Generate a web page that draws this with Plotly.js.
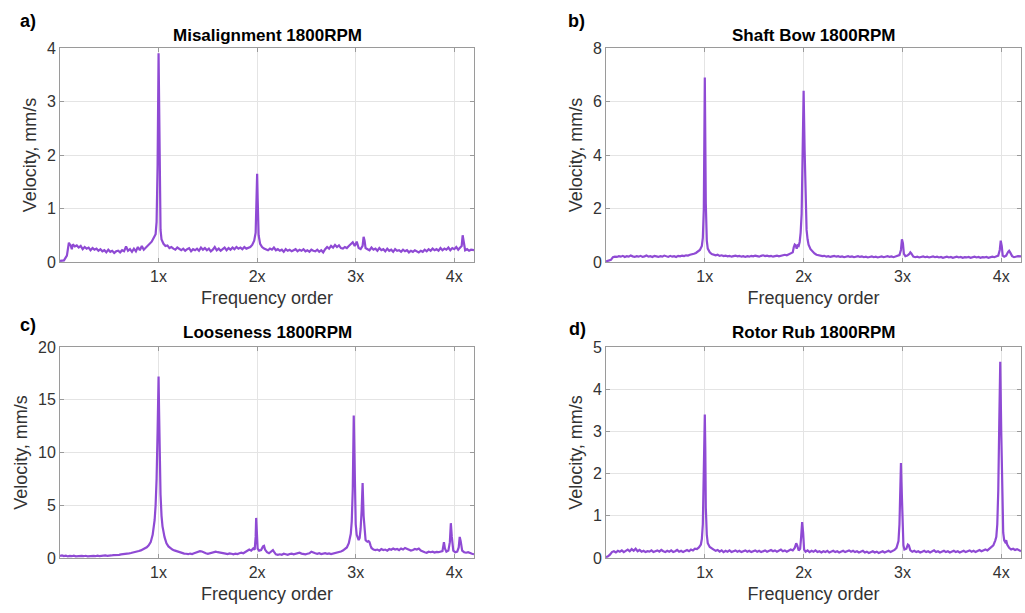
<!DOCTYPE html>
<html>
<head>
<meta charset="utf-8">
<script src="https://cdn.plot.ly/plotly-3.0.1.min.js"></script>
<style>html,body{margin:0;padding:0;background:#fff;}#chart{width:1025px;height:613px;}</style>
</head>
<body>
<div id="chart"></div>
<script>
// Tick labels
var orderTicks = [1, 2, 3, 4];
var orderLabels = ['1x', '2x', '3x', '4x'];
var panelTitles = ['Misalignment 1800RPM', 'Shaft Bow 1800RPM', 'Looseness 1800RPM', 'Rotor Rub 1800RPM'];
var panelLetters = ['a)', 'b)', 'c)', 'd)'];
var yMax = [4, 8, 20, 5];
var yStep = [1, 2, 5, 1];

// [frequency order, velocity mm/s]
var misalignment = [[0,0.02],[0.04,0.03],[0.07,0.12],[0.09,0.36],[0.11,0.30],[0.12,0.24],[0.13,0.33],[0.15,0.29],[0.17,0.31],[0.19,0.27],[0.21,0.30],[0.23,0.24],[0.25,0.28],[0.27,0.25],[0.29,0.27],[0.31,0.22],[0.33,0.26],[0.35,0.23],[0.37,0.25],[0.39,0.21],[0.41,0.24],[0.43,0.20],[0.45,0.22],[0.47,0.18],[0.49,0.23],[0.51,0.19],[0.53,0.21],[0.55,0.17],[0.57,0.20],[0.59,0.21],[0.61,0.18],[0.63,0.22],[0.65,0.20],[0.67,0.29],[0.69,0.21],[0.71,0.24],[0.73,0.19],[0.75,0.25],[0.77,0.20],[0.79,0.28],[0.81,0.22],[0.83,0.30],[0.85,0.23],[0.87,0.27],[0.89,0.31],[0.91,0.33],[0.93,0.38],[0.95,0.45],[0.97,0.52],[0.98,0.75],[0.99,1.8],[1.0,3.9],[1.01,1.6],[1.02,0.6],[1.03,0.42],[1.05,0.34],[1.07,0.30],[1.09,0.31],[1.11,0.26],[1.13,0.28],[1.15,0.25],[1.17,0.23],[1.19,0.27],[1.21,0.24],[1.23,0.22],[1.25,0.25],[1.27,0.21],[1.29,0.24],[1.31,0.26],[1.33,0.20],[1.35,0.24],[1.37,0.22],[1.39,0.25],[1.41,0.21],[1.43,0.27],[1.45,0.23],[1.47,0.26],[1.49,0.22],[1.51,0.25],[1.53,0.20],[1.55,0.23],[1.57,0.28],[1.59,0.22],[1.61,0.25],[1.63,0.21],[1.65,0.24],[1.67,0.27],[1.69,0.22],[1.71,0.26],[1.73,0.23],[1.75,0.27],[1.77,0.24],[1.79,0.28],[1.81,0.25],[1.83,0.27],[1.85,0.24],[1.87,0.28],[1.89,0.25],[1.91,0.27],[1.93,0.28],[1.95,0.32],[1.97,0.40],[1.985,0.55],[1.995,1.3],[2.0,1.65],[2.005,1.2],[2.015,0.5],[2.03,0.34],[2.05,0.28],[2.07,0.25],[2.09,0.24],[2.11,0.22],[2.13,0.25],[2.15,0.23],[2.17,0.27],[2.19,0.22],[2.21,0.24],[2.23,0.21],[2.25,0.23],[2.27,0.19],[2.29,0.24],[2.31,0.21],[2.33,0.23],[2.35,0.20],[2.37,0.22],[2.39,0.24],[2.41,0.20],[2.43,0.23],[2.45,0.21],[2.47,0.24],[2.49,0.20],[2.51,0.22],[2.53,0.19],[2.55,0.23],[2.57,0.21],[2.59,0.20],[2.61,0.23],[2.63,0.19],[2.65,0.22],[2.67,0.18],[2.69,0.24],[2.71,0.28],[2.73,0.25],[2.75,0.30],[2.77,0.27],[2.79,0.32],[2.81,0.28],[2.83,0.31],[2.85,0.26],[2.87,0.25],[2.89,0.28],[2.91,0.26],[2.93,0.30],[2.95,0.34],[2.97,0.37],[2.99,0.30],[3.01,0.38],[3.03,0.26],[3.05,0.24],[3.07,0.30],[3.08,0.47],[3.09,0.40],[3.10,0.26],[3.12,0.24],[3.14,0.22],[3.16,0.27],[3.18,0.23],[3.20,0.25],[3.22,0.21],[3.24,0.26],[3.26,0.22],[3.28,0.24],[3.30,0.20],[3.32,0.25],[3.34,0.21],[3.36,0.23],[3.38,0.19],[3.40,0.24],[3.42,0.21],[3.44,0.22],[3.46,0.19],[3.48,0.23],[3.50,0.20],[3.52,0.22],[3.54,0.18],[3.56,0.21],[3.58,0.19],[3.60,0.22],[3.62,0.20],[3.64,0.18],[3.66,0.21],[3.68,0.19],[3.70,0.23],[3.72,0.20],[3.74,0.24],[3.76,0.21],[3.78,0.25],[3.80,0.22],[3.82,0.24],[3.84,0.21],[3.86,0.26],[3.88,0.22],[3.90,0.25],[3.92,0.23],[3.94,0.27],[3.96,0.22],[3.98,0.26],[4.00,0.24],[4.02,0.28],[4.04,0.23],[4.06,0.27],[4.075,0.30],[4.085,0.50],[4.095,0.38],[4.11,0.22],[4.13,0.24],[4.15,0.21],[4.17,0.23],[4.20,0.22]];

var shaftBow = [[0,0.02],[0.03,0.04],[0.05,0.08],[0.07,0.18],[0.09,0.20],[0.11,0.19],[0.13,0.22],[0.15,0.20],[0.17,0.23],[0.19,0.19],[0.21,0.22],[0.23,0.20],[0.25,0.24],[0.27,0.21],[0.29,0.19],[0.31,0.22],[0.33,0.20],[0.35,0.23],[0.37,0.19],[0.39,0.21],[0.41,0.24],[0.43,0.20],[0.45,0.22],[0.47,0.19],[0.49,0.23],[0.51,0.21],[0.53,0.19],[0.55,0.22],[0.57,0.20],[0.59,0.24],[0.61,0.21],[0.63,0.19],[0.65,0.23],[0.67,0.20],[0.69,0.22],[0.71,0.19],[0.73,0.23],[0.75,0.21],[0.77,0.24],[0.79,0.22],[0.81,0.25],[0.83,0.24],[0.85,0.27],[0.87,0.28],[0.89,0.31],[0.91,0.34],[0.93,0.38],[0.95,0.45],[0.97,0.6],[0.98,0.9],[0.99,2.0],[1.0,6.9],[1.01,2.2],[1.02,0.8],[1.03,0.5],[1.05,0.36],[1.07,0.30],[1.09,0.27],[1.11,0.25],[1.13,0.27],[1.15,0.23],[1.17,0.25],[1.19,0.22],[1.21,0.24],[1.23,0.21],[1.25,0.23],[1.27,0.20],[1.29,0.22],[1.31,0.24],[1.33,0.21],[1.35,0.23],[1.37,0.20],[1.39,0.22],[1.41,0.19],[1.43,0.22],[1.45,0.20],[1.47,0.23],[1.49,0.21],[1.51,0.24],[1.53,0.22],[1.55,0.20],[1.57,0.23],[1.59,0.25],[1.61,0.22],[1.63,0.24],[1.65,0.21],[1.67,0.23],[1.69,0.20],[1.71,0.22],[1.73,0.24],[1.75,0.21],[1.77,0.23],[1.79,0.25],[1.81,0.27],[1.83,0.25],[1.85,0.29],[1.87,0.32],[1.89,0.36],[1.90,0.55],[1.91,0.65],[1.92,0.62],[1.93,0.5],[1.94,0.62],[1.95,0.6],[1.96,0.75],[1.97,1.1],[1.98,1.8],[1.99,3.5],[2.0,6.4],[2.01,4.2],[2.02,2.0],[2.03,1.2],[2.04,0.85],[2.05,0.65],[2.07,0.48],[2.09,0.38],[2.11,0.32],[2.13,0.27],[2.15,0.25],[2.17,0.24],[2.19,0.22],[2.21,0.23],[2.23,0.20],[2.25,0.22],[2.27,0.19],[2.29,0.21],[2.31,0.23],[2.33,0.20],[2.35,0.22],[2.37,0.19],[2.39,0.21],[2.41,0.18],[2.43,0.20],[2.45,0.22],[2.47,0.19],[2.49,0.21],[2.51,0.18],[2.53,0.20],[2.55,0.22],[2.57,0.19],[2.59,0.21],[2.61,0.18],[2.63,0.20],[2.65,0.17],[2.67,0.19],[2.69,0.21],[2.71,0.18],[2.73,0.20],[2.75,0.17],[2.77,0.19],[2.79,0.21],[2.81,0.18],[2.83,0.20],[2.85,0.22],[2.87,0.19],[2.89,0.21],[2.91,0.18],[2.93,0.20],[2.95,0.22],[2.97,0.26],[2.985,0.45],[2.995,0.85],[3.005,0.7],[3.015,0.3],[3.03,0.22],[3.05,0.24],[3.07,0.30],[3.08,0.36],[3.09,0.32],[3.11,0.20],[3.13,0.18],[3.15,0.20],[3.17,0.17],[3.19,0.19],[3.21,0.21],[3.23,0.18],[3.25,0.20],[3.27,0.17],[3.29,0.19],[3.31,0.21],[3.33,0.18],[3.35,0.20],[3.37,0.17],[3.39,0.19],[3.41,0.16],[3.43,0.18],[3.45,0.20],[3.47,0.17],[3.49,0.19],[3.51,0.16],[3.53,0.18],[3.55,0.20],[3.57,0.17],[3.59,0.19],[3.61,0.16],[3.63,0.18],[3.65,0.17],[3.67,0.19],[3.69,0.16],[3.71,0.18],[3.73,0.20],[3.75,0.17],[3.77,0.19],[3.79,0.16],[3.81,0.18],[3.83,0.17],[3.85,0.19],[3.87,0.16],[3.89,0.18],[3.91,0.20],[3.93,0.18],[3.95,0.21],[3.97,0.24],[3.985,0.45],[3.995,0.8],[4.005,0.6],[4.015,0.24],[4.03,0.2],[4.05,0.24],[4.07,0.38],[4.08,0.42],[4.09,0.36],[4.11,0.22],[4.13,0.18],[4.15,0.20],[4.17,0.22],[4.20,0.21]];

var looseness = [[0,0.2],[0.02,0.25],[0.04,0.18],[0.06,0.22],[0.08,0.15],[0.10,0.2],[0.12,0.17],[0.14,0.22],[0.16,0.16],[0.18,0.19],[0.20,0.15],[0.22,0.2],[0.24,0.17],[0.26,0.21],[0.28,0.16],[0.30,0.19],[0.32,0.15],[0.34,0.2],[0.36,0.17],[0.38,0.22],[0.40,0.18],[0.42,0.21],[0.44,0.19],[0.46,0.24],[0.48,0.21],[0.50,0.26],[0.52,0.24],[0.54,0.28],[0.56,0.27],[0.58,0.3],[0.60,0.3],[0.62,0.34],[0.64,0.35],[0.66,0.38],[0.68,0.4],[0.70,0.44],[0.72,0.47],[0.74,0.5],[0.76,0.55],[0.78,0.6],[0.80,0.66],[0.82,0.72],[0.84,0.8],[0.86,0.9],[0.88,1.02],[0.90,1.2],[0.92,1.5],[0.94,2.2],[0.96,3.6],[0.97,5.0],[0.98,7.5],[0.99,12.0],[1.0,17.2],[1.005,14.0],[1.01,10.0],[1.02,6.0],[1.03,4.0],[1.04,3.0],[1.06,2.0],[1.08,1.4],[1.10,1.1],[1.12,0.9],[1.14,0.8],[1.16,0.72],[1.18,0.65],[1.20,0.58],[1.22,0.52],[1.24,0.48],[1.26,0.42],[1.28,0.4],[1.30,0.36],[1.32,0.42],[1.34,0.38],[1.36,0.45],[1.38,0.5],[1.40,0.6],[1.42,0.65],[1.44,0.62],[1.46,0.5],[1.48,0.45],[1.50,0.4],[1.52,0.45],[1.54,0.5],[1.56,0.56],[1.58,0.6],[1.60,0.55],[1.62,0.5],[1.64,0.45],[1.66,0.4],[1.68,0.42],[1.70,0.38],[1.72,0.44],[1.74,0.4],[1.76,0.35],[1.78,0.42],[1.80,0.38],[1.82,0.45],[1.84,0.5],[1.86,0.45],[1.88,0.55],[1.90,0.65],[1.92,0.8],[1.94,0.7],[1.96,0.9],[1.975,0.8],[1.985,2.0],[1.99,3.8],[1.995,3.0],[2.005,0.9],[2.02,0.7],[2.04,0.75],[2.06,1.1],[2.07,1.15],[2.08,0.8],[2.10,0.55],[2.12,0.45],[2.14,0.6],[2.16,0.75],[2.17,0.6],[2.19,0.35],[2.21,0.3],[2.23,0.35],[2.25,0.3],[2.27,0.4],[2.29,0.35],[2.31,0.3],[2.33,0.38],[2.35,0.42],[2.37,0.35],[2.39,0.4],[2.41,0.45],[2.43,0.5],[2.45,0.42],[2.47,0.38],[2.49,0.35],[2.51,0.4],[2.53,0.45],[2.55,0.6],[2.57,0.5],[2.59,0.45],[2.61,0.4],[2.63,0.45],[2.65,0.38],[2.67,0.42],[2.69,0.45],[2.71,0.4],[2.73,0.44],[2.75,0.38],[2.77,0.42],[2.79,0.45],[2.81,0.5],[2.83,0.55],[2.85,0.62],[2.87,0.7],[2.89,0.85],[2.91,1.0],[2.93,1.4],[2.95,2.3],[2.96,3.5],[2.97,6.5],[2.98,13.5],[2.99,7.0],[3.00,3.2],[3.01,2.2],[3.02,1.8],[3.03,1.7],[3.04,1.9],[3.05,2.8],[3.06,4.5],[3.07,7.1],[3.08,4.0],[3.09,2.2],[3.10,1.7],[3.11,1.6],[3.12,1.55],[3.13,1.6],[3.14,1.5],[3.15,1.2],[3.16,0.95],[3.18,0.8],[3.20,0.75],[3.22,0.8],[3.24,0.7],[3.26,0.85],[3.28,0.75],[3.30,0.8],[3.32,0.7],[3.34,0.85],[3.36,0.78],[3.38,0.9],[3.40,0.8],[3.42,0.85],[3.44,0.75],[3.46,0.9],[3.48,0.8],[3.50,0.95],[3.52,0.85],[3.54,0.8],[3.56,0.7],[3.58,0.75],[3.60,0.85],[3.62,0.8],[3.64,0.9],[3.66,0.7],[3.68,0.6],[3.70,0.55],[3.72,0.5],[3.74,0.6],[3.76,0.55],[3.78,0.6],[3.80,0.52],[3.82,0.58],[3.84,0.55],[3.86,0.6],[3.88,0.65],[3.895,1.5],[3.905,0.9],[3.92,0.6],[3.94,0.7],[3.955,1.5],[3.965,3.3],[3.975,2.0],[3.99,0.7],[4.01,0.55],[4.03,0.6],[4.045,1.0],[4.055,2.0],[4.065,1.6],[4.08,0.7],[4.10,0.55],[4.12,0.5],[4.14,0.55],[4.16,0.45],[4.18,0.4],[4.20,0.35]];

var rotorRub = [[0,0.02],[0.02,0.04],[0.04,0.08],[0.06,0.14],[0.08,0.16],[0.10,0.13],[0.12,0.17],[0.14,0.15],[0.16,0.18],[0.18,0.14],[0.20,0.17],[0.22,0.2],[0.24,0.16],[0.26,0.21],[0.28,0.17],[0.30,0.22],[0.32,0.16],[0.34,0.19],[0.36,0.15],[0.38,0.17],[0.40,0.14],[0.42,0.16],[0.44,0.15],[0.46,0.18],[0.48,0.14],[0.50,0.16],[0.52,0.18],[0.54,0.15],[0.56,0.19],[0.58,0.16],[0.60,0.14],[0.62,0.17],[0.64,0.15],[0.66,0.18],[0.68,0.14],[0.70,0.16],[0.72,0.19],[0.74,0.15],[0.76,0.17],[0.78,0.14],[0.80,0.16],[0.82,0.19],[0.84,0.16],[0.86,0.2],[0.88,0.18],[0.90,0.22],[0.92,0.21],[0.94,0.25],[0.96,0.32],[0.97,0.45],[0.98,0.8],[0.99,1.8],[1.0,3.4],[1.005,2.6],[1.01,1.2],[1.02,0.55],[1.03,0.35],[1.05,0.26],[1.07,0.22],[1.09,0.2],[1.11,0.17],[1.13,0.19],[1.15,0.15],[1.17,0.18],[1.19,0.14],[1.21,0.17],[1.23,0.15],[1.25,0.18],[1.27,0.14],[1.29,0.16],[1.31,0.18],[1.33,0.15],[1.35,0.17],[1.37,0.14],[1.39,0.16],[1.41,0.18],[1.43,0.15],[1.45,0.17],[1.47,0.14],[1.49,0.16],[1.51,0.18],[1.53,0.15],[1.55,0.17],[1.57,0.14],[1.59,0.16],[1.61,0.18],[1.63,0.15],[1.65,0.17],[1.67,0.19],[1.69,0.16],[1.71,0.18],[1.73,0.15],[1.75,0.17],[1.77,0.2],[1.79,0.16],[1.81,0.18],[1.83,0.15],[1.85,0.17],[1.87,0.2],[1.89,0.18],[1.91,0.24],[1.925,0.35],[1.935,0.3],[1.95,0.18],[1.965,0.22],[1.975,0.5],[1.985,0.85],[1.995,0.6],[2.005,0.2],[2.02,0.15],[2.04,0.18],[2.06,0.14],[2.08,0.17],[2.10,0.15],[2.12,0.18],[2.14,0.14],[2.16,0.16],[2.18,0.13],[2.20,0.16],[2.22,0.14],[2.24,0.17],[2.26,0.13],[2.28,0.15],[2.30,0.17],[2.32,0.14],[2.34,0.16],[2.36,0.13],[2.38,0.15],[2.40,0.17],[2.42,0.14],[2.44,0.16],[2.46,0.18],[2.48,0.15],[2.50,0.17],[2.52,0.14],[2.54,0.16],[2.56,0.13],[2.58,0.15],[2.60,0.17],[2.62,0.13],[2.64,0.15],[2.66,0.12],[2.68,0.14],[2.70,0.16],[2.72,0.13],[2.74,0.15],[2.76,0.12],[2.78,0.14],[2.80,0.16],[2.82,0.13],[2.84,0.15],[2.86,0.17],[2.88,0.14],[2.90,0.16],[2.92,0.19],[2.94,0.24],[2.96,0.4],[2.97,0.8],[2.98,1.6],[2.985,2.25],[2.99,1.8],[3.0,0.7],[3.01,0.3],[3.02,0.2],[3.04,0.22],[3.055,0.32],[3.065,0.3],[3.08,0.18],[3.10,0.15],[3.12,0.17],[3.14,0.14],[3.16,0.16],[3.18,0.13],[3.20,0.15],[3.22,0.17],[3.24,0.14],[3.26,0.16],[3.28,0.13],[3.30,0.15],[3.32,0.18],[3.34,0.14],[3.36,0.16],[3.38,0.13],[3.40,0.15],[3.42,0.17],[3.44,0.14],[3.46,0.16],[3.48,0.13],[3.50,0.15],[3.52,0.17],[3.54,0.14],[3.56,0.16],[3.58,0.13],[3.60,0.15],[3.62,0.17],[3.64,0.14],[3.66,0.16],[3.68,0.18],[3.70,0.15],[3.72,0.17],[3.74,0.14],[3.76,0.16],[3.78,0.19],[3.80,0.16],[3.82,0.18],[3.84,0.2],[3.86,0.18],[3.88,0.22],[3.90,0.25],[3.92,0.3],[3.94,0.42],[3.95,0.5],[3.96,0.8],[3.97,1.6],[3.98,3.2],[3.99,4.65],[4.0,3.0],[4.01,1.2],[4.02,0.6],[4.03,0.42],[4.04,0.38],[4.05,0.42],[4.06,0.32],[4.08,0.24],[4.10,0.2],[4.12,0.22],[4.14,0.19],[4.16,0.21],[4.18,0.18],[4.20,0.16]];

var spectra = [misalignment, shaftBow, looseness, rotorRub];

var W = 1025, H = 613;
// panel boxes in pixels: left, right, top, bottom
var boxes = [[60, 474, 48, 262], [606, 1021, 48, 262], [60, 474, 347, 558], [606, 1021, 347, 558]];
var titlePos = [[267, 35], [813, 36], [267, 332], [813, 332]];
var letterPos = [[28, 21], [576, 21], [28, 325], [577, 329]];

var FONT = 'Liberation Sans, Arial, Helvetica, sans-serif';
var lineColor = '#8f4ad4';
var data = [];
var layout = {
  width: W, height: H,
  margin: {l: 0, r: 0, t: 0, b: 0},
  paper_bgcolor: '#ffffff', plot_bgcolor: '#ffffff',
  showlegend: false,
  font: {family: FONT, color: '#333333'},
  annotations: []
};

for (var i = 0; i < 4; i++) {
  var s = spectra[i];
  var sfx = i === 0 ? '' : String(i + 1);
  data.push({
    type: 'scatter', mode: 'lines',
    x: s.map(function (p) { return p[0]; }),
    y: s.map(function (p) { return p[1]; }),
    xaxis: 'x' + sfx, yaxis: 'y' + sfx,
    line: {color: lineColor, width: 2.2},
    hoverinfo: 'skip'
  });
  var b = boxes[i];
  var common = {
    showgrid: true, gridcolor: '#e4e4e4', gridwidth: 1,
    zeroline: false, showline: true, linecolor: '#9a9a9a', linewidth: 1,
    mirror: 'ticks', ticks: 'inside', ticklen: 4, tickcolor: '#9a9a9a',
    tickfont: {family: FONT, size: 16, color: '#333333'},
    fixedrange: true
  };
  layout['xaxis' + sfx] = Object.assign({}, common, {
    domain: [b[0] / W, b[1] / W],
    anchor: 'y' + sfx,
    range: [0, 4.2],
    tickmode: 'array', tickvals: orderTicks, ticktext: orderLabels,
    title: {text: 'Frequency order', font: {family: FONT, size: 18, color: '#333333'}, standoff: 7}
  });
  layout['yaxis' + sfx] = Object.assign({}, common, {
    domain: [1 - b[3] / H, 1 - b[2] / H],
    anchor: 'x' + sfx,
    range: [0, yMax[i]],
    tickmode: 'linear', tick0: 0, dtick: yStep[i],
    title: {text: 'Velocity, mm/s', font: {family: FONT, size: 18, color: '#333333'}, standoff: 5}
  });
  layout.annotations.push({
    text: '<b>' + panelTitles[i] + '</b>', xref: 'paper', yref: 'paper',
    x: titlePos[i][0] / W, y: 1 - titlePos[i][1] / H, xanchor: 'center', yanchor: 'middle',
    showarrow: false, font: {family: FONT, size: 17, color: '#000000'}
  });
  layout.annotations.push({
    text: '<b>' + panelLetters[i] + '</b>', xref: 'paper', yref: 'paper',
    x: letterPos[i][0] / W, y: 1 - letterPos[i][1] / H, xanchor: 'center', yanchor: 'middle',
    showarrow: false, font: {family: FONT, size: 18, color: '#000000'}
  });
}

Plotly.newPlot('chart', data, layout, {staticPlot: true, displayModeBar: false});
</script>
</body>
</html>
